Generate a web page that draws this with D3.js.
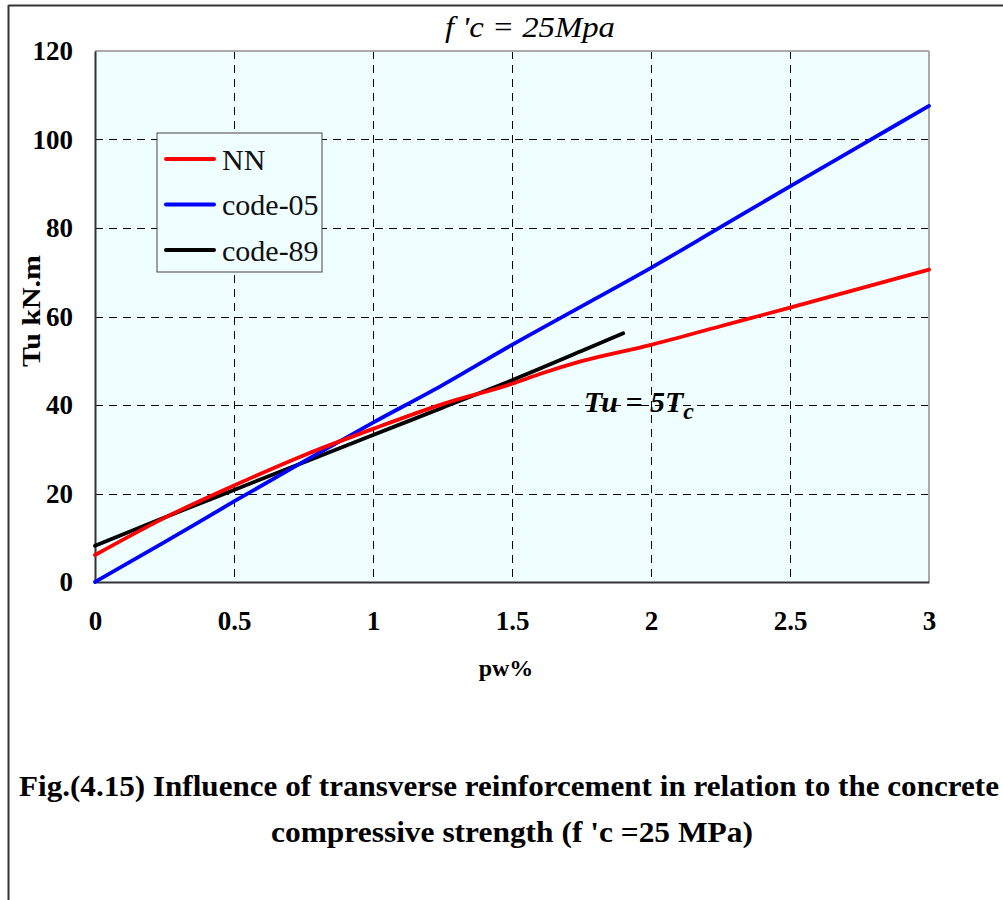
<!DOCTYPE html>
<html>
<head>
<meta charset="utf-8">
<script src="https://cdn.jsdelivr.net/npm/d3@7"></script>
<style>
  html, body { margin: 0; padding: 0; background: #fff; }
  svg { display: block; }
</style>
</head>
<body>
<svg id="chart" width="1003" height="900"></svg>
<script>
// Reinforcement ratio pw% (x) against ultimate torque Tu in kN.m (y)
const nnX     = [0, 0.25, 0.5, 0.75, 1, 1.25, 1.5, 1.6, 1.75, 2, 2.25, 2.5, 2.75, 3];
const nnY     = [6.1, 14.5, 21.8, 28.6, 34.6, 40.2, 44.8, 47.0, 49.9, 53.6, 57.8, 62.0, 66.3, 70.6];
const code05X = [0, 0.25, 0.5, 0.75, 1, 1.25, 1.5, 1.75, 2, 2.25, 2.5, 2.75, 3];
const code05Y = [0, 9.0, 18.2, 27.2, 36.0, 44.5, 53.6, 62.3, 71.0, 80.2, 89.4, 98.5, 107.6];
const code89X = [0, 0.25, 0.5, 0.75, 1, 1.25, 1.5, 1.75, 1.9];
const code89Y = [8.2, 14.6, 20.8, 27.0, 33.2, 39.4, 45.6, 52.2, 56.2];

const xTicks = [0, 0.5, 1, 1.5, 2, 2.5, 3];
const yTicks = [0, 20, 40, 60, 80, 100, 120];

const seriesNames  = ["NN", "code-05", "code-89"];
const seriesColors = ["#ff0000", "#0000ff", "#000000"];

const svg = d3.select("#chart");
const serif = "Liberation Serif, Times New Roman, serif";

// Outer figure frame (top and left rules)
svg.append("line").attr("x1", 8.5).attr("x2", 1003).attr("y1", 5.5).attr("y2", 5.5)
  .attr("stroke", "#333").attr("stroke-width", 2);
svg.append("line").attr("x1", 8.5).attr("x2", 8.5).attr("y1", 5).attr("y2", 900)
  .attr("stroke", "#333").attr("stroke-width", 2);

const plot = { left: 95, right: 929, top: 51, bottom: 582 };
const x = d3.scaleLinear().domain([0, 3]).range([plot.left, plot.right]);
const y = d3.scaleLinear().domain([0, 120]).range([plot.bottom, plot.top]);

// Plot background
svg.append("rect")
  .attr("x", plot.left).attr("y", plot.top)
  .attr("width", plot.right - plot.left).attr("height", plot.bottom - plot.top)
  .attr("fill", "#efffff");

// Dashed grid lines
const grid = svg.append("g").attr("stroke", "#000").attr("stroke-width", 1)
  .attr("stroke-dasharray", "8,6");
grid.selectAll("line.gx").data(xTicks.filter(d => d > 0 && d < 3)).join("line")
  .attr("x1", d => Math.round(x(d)) + 0.5).attr("x2", d => Math.round(x(d)) + 0.5)
  .attr("y1", plot.top).attr("y2", plot.bottom);
grid.selectAll("line.gy").data(yTicks.filter(d => d > 0 && d < 120)).join("line")
  .attr("x1", plot.left).attr("x2", plot.right)
  .attr("y1", d => Math.round(y(d)) + 0.5).attr("y2", d => Math.round(y(d)) + 0.5);

// Plot border: light on top/right, dark axes on left/bottom
svg.append("line").attr("x1", plot.left).attr("x2", plot.right).attr("y1", plot.top).attr("y2", plot.top)
  .attr("stroke", "#aaa").attr("stroke-width", 2);
svg.append("line").attr("x1", plot.right).attr("x2", plot.right).attr("y1", plot.top).attr("y2", plot.bottom)
  .attr("stroke", "#aaa").attr("stroke-width", 2);

// Axes with D3 axis generators; tick marks hidden, labels bold serif
const xAxis = svg.append("g").attr("transform", `translate(0,${plot.bottom})`)
  .call(d3.axisBottom(x).tickValues(xTicks).tickSize(0).tickPadding(29).tickFormat(d3.format("")));
const yAxis = svg.append("g").attr("transform", `translate(${plot.left},0)`)
  .call(d3.axisLeft(y).tickValues(yTicks).tickSize(0).tickPadding(22));
[xAxis, yAxis].forEach(g => {
  g.attr("font-family", serif).attr("font-size", 27);
  g.select(".domain").attr("stroke", "#333").attr("stroke-width", 2);
  g.selectAll("text").attr("font-family", serif).attr("font-weight", "bold")
    .attr("font-size", 27).attr("fill", "#000");
});
yAxis.selectAll("text").attr("dy", "0.33em");
xAxis.selectAll("text").attr("dy", "0.71em");

// Series lines
const line = d3.line().x(d => x(d[0])).y(d => y(d[1])).curve(d3.curveMonotoneX);
const series = [
  d3.zip(nnX, nnY),
  d3.zip(code05X, code05Y),
  d3.zip(code89X, code89Y)
];
// draw order: black first, blue, then red on top where they cross
[2, 1, 0].forEach(i => {
  svg.append("path").datum(series[i])
    .attr("d", line).attr("fill", "none")
    .attr("stroke", seriesColors[i]).attr("stroke-width", 3.8)
    .attr("stroke-linejoin", "round").attr("stroke-linecap", "round");
});

// Legend
const legend = svg.append("g");
legend.append("rect").attr("x", 157).attr("y", 133).attr("width", 165).attr("height", 139)
  .attr("fill", "#efffff").attr("stroke", "#444").attr("stroke-width", 1);
seriesNames.forEach((name, i) => {
  const cy = 159 + i * 45.5;
  legend.append("line").attr("x1", 166).attr("x2", 214).attr("y1", cy).attr("y2", cy)
    .attr("stroke", seriesColors[i]).attr("stroke-width", 4).attr("stroke-linecap", "round");
  legend.append("text").attr("x", 222).attr("y", cy).attr("dy", "0.35em")
    .attr("font-family", serif).attr("font-size", 30).attr("fill", "#111").text(name);
});

// Axis titles
svg.append("text").attr("x", 506).attr("y", 676).attr("text-anchor", "middle")
  .attr("font-family", serif).attr("font-weight", "bold").attr("font-size", 24).text("pw%");
svg.append("text").attr("transform", "translate(40,311) rotate(-90)").attr("text-anchor", "middle")
  .attr("font-family", serif).attr("font-weight", "bold").attr("font-size", 25)
  .attr("textLength", 112).attr("lengthAdjust", "spacingAndGlyphs").text("Tu kN.m");

// Chart heading and annotation
svg.append("text").attr("x", 530).attr("y", 37).attr("text-anchor", "middle")
  .attr("font-family", serif).attr("font-style", "italic").attr("font-size", 30)
  .attr("textLength", 170).attr("lengthAdjust", "spacingAndGlyphs")
  .text("f 'c = 25Mpa");
const ann = svg.append("text").attr("x", 584).attr("y", 412)
  .attr("font-family", serif).attr("font-style", "italic").attr("font-weight", "bold").attr("font-size", 30);
ann.append("tspan").text("Tu = 5T");
ann.append("tspan").attr("dy", 7).attr("font-size", 24).text("c");

// Figure caption
svg.append("text").attr("x", 509).attr("y", 796).attr("text-anchor", "middle")
  .attr("font-family", serif).attr("font-weight", "bold").attr("font-size", 29)
  .attr("textLength", 980).attr("lengthAdjust", "spacingAndGlyphs")
  .text("Fig.(4.15) Influence of transverse reinforcement in relation to the concrete");
svg.append("text").attr("x", 512).attr("y", 842).attr("text-anchor", "middle")
  .attr("font-family", serif).attr("font-weight", "bold").attr("font-size", 29)
  .attr("textLength", 482).attr("lengthAdjust", "spacingAndGlyphs")
  .text("compressive strength (f 'c =25 MPa)");
</script>
</body>
</html>
